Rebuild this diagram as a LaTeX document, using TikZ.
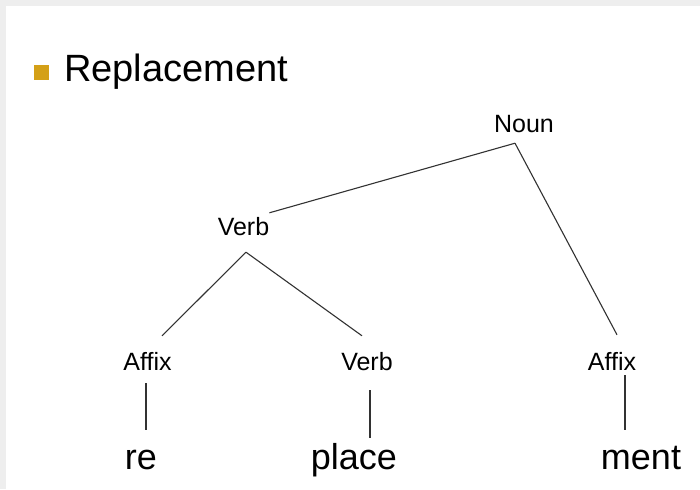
\documentclass[tikz,border=0pt]{standalone}
\usepackage{fontspec}
\setmainfont{Liberation Sans}
\usetikzlibrary{positioning,calc}

\definecolor{bulletgold}{RGB}{212,160,23}
\definecolor{framegray}{RGB}{238,238,238}
\definecolor{edgegray}{RGB}{50,50,50}

\begin{document}
\begin{tikzpicture}[
        x=1pt, y=-1pt,
        edge/.style={line width=1.1pt, draw=edgegray},
        label/.style={
            inner sep=0pt,
            anchor=base,
            text height=18pt,
            text depth=0pt,
            font=\fontsize{25}{30}\selectfont
        },
        word/.style={
            inner sep=0pt,
            anchor=base,
            text height=19pt,
            text depth=8pt,
            font=\fontsize{36}{42}\selectfont
        }
    ]

    \useasboundingbox (0,0) rectangle (700,489);
    \fill[white] (0,0) rectangle (700,489);
    \fill[framegray] (0,0) rectangle (700,6);
    \fill[framegray] (0,0) rectangle (6,489);

    % title with bullet
    \node[fill=bulletgold, minimum size=15pt, inner sep=0pt] (bullet) at (41,72.5) {};
    \node[inner sep=0pt, anchor=base west, font=\fontsize{38}{44}\selectfont] (title) at (64,82) {Replacement};

    % tree labels
    \node[label] (noun) at (524,132) {Noun};
    \node[label] (verbtop) at (243.5,235) {Verb};
    \node[label] (affixre) at (147.5,370) {Affix};
    \node[label] (verbplace) at (367,370) {Verb};
    \node[label] (affixment) at (612,370) {Affix};

    % morphemes
    \node[word] (re) at (141,469) {re};
    \node[word] (place) at (354,469) {place};
    \node[word] (ment) at (641,469) {ment};

    \draw[edge] ($(noun.south)+(-9,11)$) -- ($(verbtop.north east)+(0,-4)$);
    \draw[edge] ($(noun.south)+(-9,11)$) -- ($(affixment.north)+(5,-17)$);
    \draw[edge] ($(verbtop.south)+(2.5,17)$) -- ($(affixre.north)+(14.5,-16)$);
    \draw[edge] ($(verbtop.south)+(2.5,17)$) -- ($(verbplace.north)+(-5,-16)$);

    \draw[edge] ($(affixre.south)+(-1.5,13)$) -- ($(re.north)+(5,-20)$);
    \draw[edge] ($(verbplace.south)+(3,20)$) -- ($(place.north)+(16,-12)$);
    \draw[edge] ($(affixment.south)+(13,5)$) -- ($(ment.north)+(-16,-20)$);

\end{tikzpicture}
\end{document}
